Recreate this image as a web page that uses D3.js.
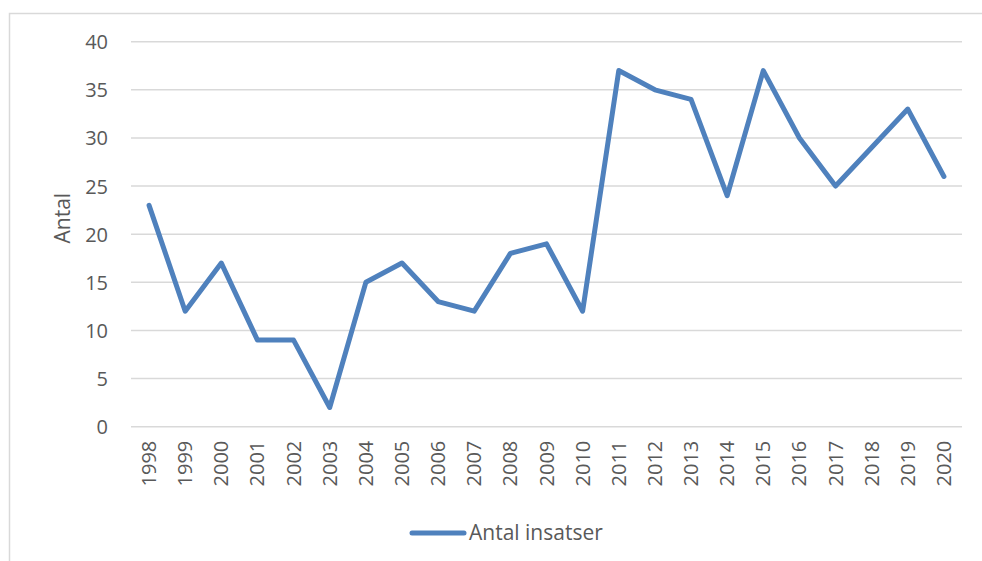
<!DOCTYPE html>
<html>
<head>
<meta charset="utf-8">
<script src="https://cdn.jsdelivr.net/npm/d3@7"></script>
<style>
  html, body { margin: 0; padding: 0; background: #fff; }
  svg { display: block; }
  text { font-family: "Open Sans", "Noto Sans", sans-serif; fill: #595959; }
</style>
</head>
<body>
<svg id="chart" width="982" height="561"></svg>
<script>
const years = ["1998","1999","2000","2001","2002","2003","2004","2005","2006","2007","2008","2009","2010","2011","2012","2013","2014","2015","2016","2017","2018","2019","2020"];
const insatser = [23,12,17,9,9,2,15,17,13,12,18,19,12,37,35,34,24,37,30,25,29,33,26];
const yTicks = [0,5,10,15,20,25,30,35,40];
const seriesName = "Antal insatser";
const yTitle = "Antal";

const svg = d3.select("#chart");
const W = 982, H = 561;
const plot = { left: 131, right: 962, top: 41.7, bottom: 426.7 };
const color = "#4F81BD";

// outer frame
svg.append("rect").attr("x", 9.5).attr("y", 13.5).attr("width", W).attr("height", H)
  .attr("fill", "none").attr("stroke", "#d9d9d9").attr("stroke-width", 1.5);

const x = d3.scaleBand().domain(years).range([plot.left, plot.right]);
const y = d3.scaleLinear().domain([0, 40]).range([plot.bottom, plot.top]);

// gridlines
svg.append("g").selectAll("line").data(yTicks).join("line")
  .attr("x1", plot.left).attr("x2", plot.right)
  .attr("y1", d => y(d)).attr("y2", d => y(d))
  .attr("stroke", "#d9d9d9").attr("stroke-width", 1.5);

// y axis labels
const yAxis = d3.axisLeft(y).tickValues(yTicks).tickSize(0).tickPadding(0);
const gy = svg.append("g").attr("transform", `translate(${plot.left - 23},0)`).call(yAxis);
gy.select(".domain").remove();
gy.selectAll("text").attr("font-size", 20).attr("fill", "#595959")
  .style("font-family", '"Open Sans", sans-serif').attr("dy", "0.35em");

// x axis labels
const xAxis = d3.axisBottom(x).tickSize(0).tickPadding(0);
const gx = svg.append("g").attr("transform", `translate(0,${plot.bottom})`).call(xAxis);
gx.select(".domain").remove();
gx.selectAll("text")
  .attr("font-size", 20).attr("fill", "#595959")
  .style("font-family", '"Open Sans", sans-serif')
  .attr("text-anchor", "end")
  .attr("transform", "rotate(-90)")
  .attr("x", -14).attr("y", 0).attr("dy", "0.35em");

// y title
svg.append("text").attr("transform", `translate(63,${(plot.top + plot.bottom) / 2 - 16}) rotate(-90)`)
  .attr("text-anchor", "middle").attr("dy", "0.35em").attr("font-size", 21).text(yTitle);

// line
const line = d3.line().x((d, i) => x(years[i]) + x.bandwidth() / 2).y(d => y(d));
svg.append("path").datum(insatser).attr("d", line)
  .attr("fill", "none").attr("stroke", color).attr("stroke-width", 5)
  .attr("stroke-linejoin", "round").attr("stroke-linecap", "round");

// legend
const lg = svg.append("g").attr("transform", "translate(0,533)");
lg.append("line").attr("x1", 412).attr("x2", 464).attr("y1", 0).attr("y2", 0)
  .attr("stroke", color).attr("stroke-width", 5).attr("stroke-linecap", "round");
lg.append("text").attr("x", 469).attr("y", 0).attr("dy", "0.35em").attr("font-size", 21).text(seriesName);
</script>
</body>
</html>
